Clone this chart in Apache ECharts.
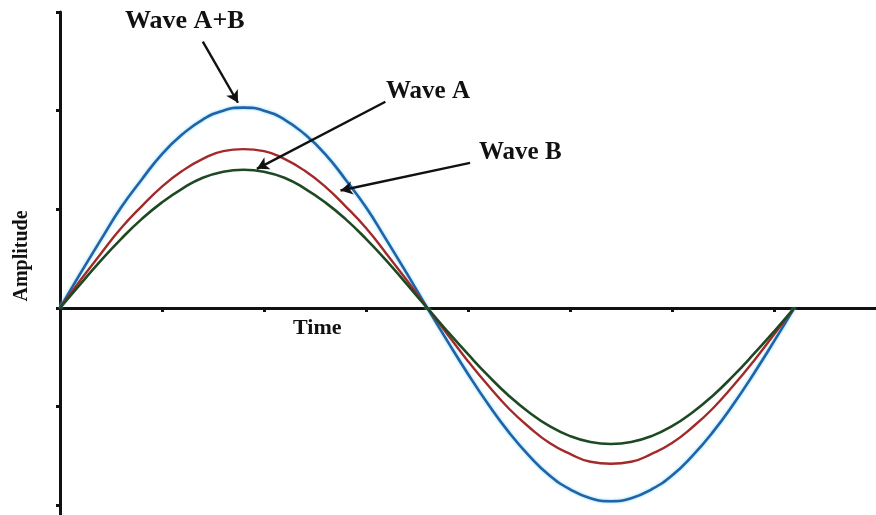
<!DOCTYPE html>
<html>
<head>
<meta charset="utf-8">
<script src="https://cdn.jsdelivr.net/npm/echarts@6/dist/echarts.min.js"></script>
<style>
  html, body { margin: 0; padding: 0; background: #ffffff; }
  #chart { width: 876px; height: 515px; }
</style>
</head>
<body>
<div id="chart"></div>
<script>
// Sample times (one full period of the waves)
const times = [0, 0.2, 0.4, 0.6, 0.8, 1.0, 1.2, 1.4, 1.6, 1.8, 2.0, 2.2, 2.4, 2.6, 2.8, 3.0, 3.2, 3.4, 3.6,
               3.8, 4.0, 4.2, 4.4, 4.6, 4.8, 5.0, 5.2, 5.4, 5.6, 5.8, 6.0, 6.2, 6.4, 6.6, 6.8, 7.0, 7.2];

// Amplitudes at each sample time
const waveAB = [0, 0.35, 0.69, 1.02, 1.30, 1.56, 1.76, 1.91, 2.00, 2.03, 2.00, 1.91, 1.76, 1.56, 1.30, 1.02, 0.69, 0.35, 0,
                -0.34, -0.67, -0.98, -1.26, -1.50, -1.70, -1.84, -1.93, -1.96, -1.93, -1.84, -1.70, -1.50, -1.26, -0.98, -0.67, -0.34, 0];
const waveA  = [0, 0.28, 0.55, 0.81, 1.03, 1.23, 1.39, 1.51, 1.59, 1.61, 1.59, 1.51, 1.39, 1.23, 1.03, 0.81, 0.55, 0.28, 0,
                -0.27, -0.54, -0.79, -1.02, -1.21, -1.37, -1.48, -1.56, -1.58, -1.56, -1.48, -1.37, -1.21, -1.02, -0.79, -0.54, -0.27, 0];
const waveB  = [0, 0.24, 0.48, 0.70, 0.90, 1.07, 1.21, 1.32, 1.38, 1.40, 1.38, 1.32, 1.21, 1.07, 0.90, 0.70, 0.48, 0.24, 0,
                -0.24, -0.47, -0.69, -0.89, -1.06, -1.20, -1.30, -1.36, -1.38, -1.36, -1.30, -1.20, -1.06, -0.89, -0.69, -0.47, -0.24, 0];

// Tick positions
const xTicks = [1, 2, 3, 4, 5, 6, 7];
const yTicks = [-2, -1, 0, 1, 2, 3];

// Callout labels and their arrows (data coordinates)
const callouts = [
  { text: 'Wave A+B', from: [1.40, 2.70], to: [1.745, 2.08] },
  { text: 'Wave A',   from: [3.19, 2.09], to: [1.93, 1.41] },
  { text: 'Wave B',   from: [4.02, 1.47], to: [2.75, 1.19] }
];

const serif = '"Liberation Serif", "DejaVu Serif", serif';

function pairs(ys) { return times.map((t, i) => [t, ys[i]]); }

const chart = echarts.init(document.getElementById('chart'), null, { renderer: 'canvas' });

const option = {
  backgroundColor: '#ffffff',
  animation: false,
  grid: { left: 60, right: 0, top: 12, bottom: 0, containLabel: false },
  xAxis: {
    type: 'value', min: 0, max: 8,
    axisLine: { onZero: true, lineStyle: { color: '#111', width: 3 } },
    axisTick: { show: true, length: 4, lineStyle: { color: '#111', width: 3 }, customValues: xTicks },
    axisLabel: { show: false },
    splitLine: { show: false }
  },
  yAxis: {
    type: 'value', min: -2.1, max: 3,
    axisLine: { show: true, lineStyle: { color: '#111', width: 3 } },
    axisTick: { show: true, length: 4, lineStyle: { color: '#111', width: 3 }, customValues: yTicks },
    axisLabel: { show: false },
    splitLine: { show: false }
  },
  series: [
    {
      name: 'Wave A+B', type: 'line', smooth: true, symbol: 'none', z: 3,
      data: pairs(waveAB),
      lineStyle: { color: '#2163a8', width: 2.6, shadowColor: '#7ed6f2', shadowBlur: 3 }
    },
    {
      name: 'Wave A', type: 'line', smooth: true, symbol: 'none', z: 3,
      data: pairs(waveA),
      lineStyle: { color: '#a32a2a', width: 2.4 }
    },
    {
      name: 'Wave B', type: 'line', smooth: true, symbol: 'none', z: 3,
      data: pairs(waveB),
      lineStyle: { color: '#1d4a22', width: 2.6 }
    },
    {
      name: 'callouts', type: 'line', data: [], z: 5,
      markLine: {
        silent: true,
        symbol: ['none', 'arrow'],
        symbolSize: [10, 12],
        label: { show: false },
        lineStyle: { color: '#111', width: 2.4, type: 'solid' },
        data: callouts.map(c => [{ coord: c.from }, { coord: c.to }])
      }
    }
  ],
  graphic: [
    { type: 'text', left: 125, top: 8,
      style: { text: callouts[0].text, font: 'bold 26px ' + serif, fill: '#111' } },
    { type: 'text', left: 386, top: 79,
      style: { text: callouts[1].text, font: 'bold 25px ' + serif, fill: '#111' } },
    { type: 'text', left: 479, top: 140,
      style: { text: callouts[2].text, font: 'bold 25px ' + serif, fill: '#111' } },
    { type: 'text', left: 293, top: 317,
      style: { text: 'Time', font: 'bold 22px ' + serif, fill: '#111' } },
    { type: 'text', x: 22, y: 256, rotation: Math.PI / 2,
      style: { text: 'Amplitude', font: 'bold 20px ' + serif, fill: '#111',
               align: 'center', verticalAlign: 'middle' } }
  ]
};

chart.setOption(option);
</script>
</body>
</html>
